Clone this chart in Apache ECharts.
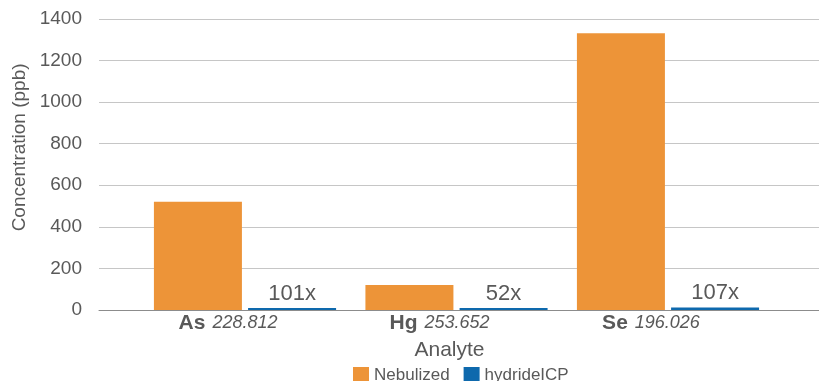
<!DOCTYPE html>
<html>
<head>
<meta charset="utf-8">
<script src="https://cdn.jsdelivr.net/npm/echarts@6/dist/echarts.min.js"></script>
<style>
  html, body { margin: 0; padding: 0; background: #fff; }
  #chart { width: 819px; height: 381px; }
</style>
</head>
<body>
<div id="chart"></div>
<script>
// Analyte categories: element symbol and emission wavelength (nm)
const elements = ['As', 'Hg', 'Se'];
const wavelengths = ['228.812', '253.652', '196.026'];

// Measured concentrations (ppb)
const nebulized = [520, 120, 1330];
const hydrideICP = [5.1, 2.3, 12.4];

// Sensitivity gain factors shown above the hydride bars
const gainLabels = ['101x', '52x', '107x'];

// Value axis ticks
const yMin = 0, yMax = 1400, yStep = 200;

const FONT = '"Liberation Sans", Arial, sans-serif';
const TEXT = '#595959';
const ORANGE = '#ED9438';
const BLUE = '#0E69AD';

const chart = echarts.init(document.getElementById('chart'));

chart.setOption({
  animation: false,
  textStyle: { fontFamily: FONT },
  grid: [
    // frame: gridlines, value labels and baseline
    { left: 99, right: 0, top: 18.8, bottom: 71 },
    // bar area
    { left: 139.25, right: 45.25, top: 18.8, bottom: 71 }
  ],
  legend: {
    data: ['Nebulized', 'hydrideICP'],
    left: 353,
    top: 366.5,
    padding: 0,
    itemWidth: 16,
    itemHeight: 16,
    itemGap: 14,
    icon: 'rect',
    textStyle: { fontSize: 17, color: TEXT, fontFamily: FONT }
  },
  xAxis: [
    {
      gridIndex: 0,
      type: 'category',
      data: [''],
      axisLine: { show: true, lineStyle: { color: '#8C8C8C', width: 1 } },
      axisTick: { show: false },
      axisLabel: { show: false },
      splitLine: { show: false }
    },
    {
      gridIndex: 1,
      type: 'category',
      data: elements,
      axisLine: { show: false },
      axisTick: { show: false },
      axisLabel: {
        margin: 0,
        interval: 0,
        formatter: (v, i) => '{b|' + v + '}{i|' + wavelengths[i] + '}{s| }',
        rich: {
          b: { fontSize: 21, fontWeight: 'bold', color: TEXT, fontFamily: FONT, lineHeight: 26 },
          i: { fontSize: 18, fontStyle: 'italic', color: TEXT, fontFamily: FONT, lineHeight: 26, padding: [0, 0, 0, 7] },
          s: { width: 34, fontSize: 17, lineHeight: 26 }
        }
      },
      name: 'Analyte',
      nameLocation: 'middle',
      nameGap: 30,
      nameTextStyle: { fontSize: 21, color: TEXT, fontFamily: FONT, padding: [0, 14, 0, 0] }
    }
  ],
  yAxis: [
    {
      gridIndex: 0,
      type: 'value',
      min: yMin,
      max: yMax,
      interval: yStep,
      axisLine: { show: false },
      axisTick: { show: false },
      axisLabel: { fontSize: 19, color: TEXT, margin: 17, fontFamily: FONT, formatter: v => String(v) },
      splitLine: { show: true, lineStyle: { color: '#C6C6C6', width: 1 } },
      name: 'Concentration (ppb)',
      nameLocation: 'middle',
      nameGap: 68,
      nameTextStyle: { fontSize: 19, color: TEXT, fontFamily: FONT, padding: [0, 0, 0, 34] }
    },
    {
      gridIndex: 1,
      type: 'value',
      min: yMin,
      max: yMax,
      interval: yStep,
      show: false,
      splitLine: { show: false }
    }
  ],
  series: [
    {
      name: 'Nebulized',
      type: 'bar',
      xAxisIndex: 1,
      yAxisIndex: 1,
      data: nebulized,
      barWidth: 88,
      barGap: '7%',
      itemStyle: { color: ORANGE }
    },
    {
      name: 'hydrideICP',
      type: 'bar',
      xAxisIndex: 1,
      yAxisIndex: 1,
      data: hydrideICP,
      barWidth: 88,
      barGap: '7%',
      barMinHeight: 2,
      itemStyle: { color: BLUE },
      label: {
        show: true,
        position: 'top',
        distance: 3,
        fontSize: 22,
        color: TEXT,
        fontFamily: FONT,
        formatter: p => gainLabels[p.dataIndex]
      }
    }
  ]
});
</script>
</body>
</html>
